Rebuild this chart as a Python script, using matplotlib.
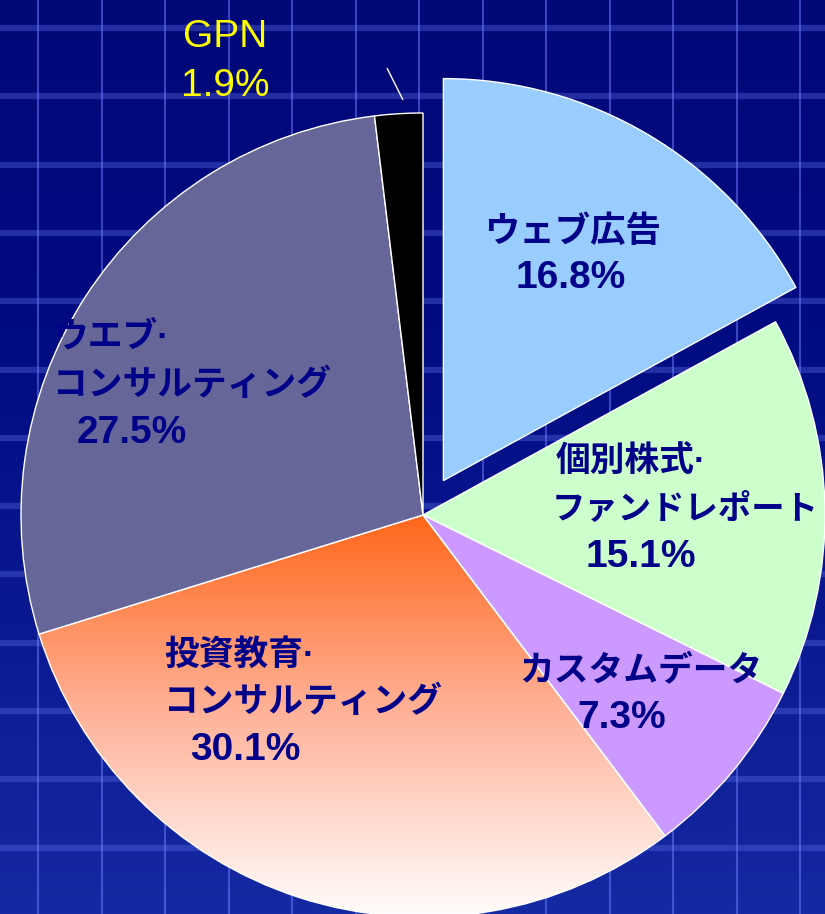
import numpy as np
import matplotlib.pyplot as plt
from matplotlib.colors import LinearSegmentedColormap

# data
categories = ['ウェブ広告', '個別株式・ファンドレポート', 'カスタムデータ',
              '投資教育・コンサルティング', 'ウエブ・コンサルティング', 'GPN']
shares = [16.8, 15.1, 7.3, 30.1, 27.5, 1.9]
explode = [40, 0, 0, 0, 0, 0]  # pie explode is in data units here (pixels)
colors = ['#99ccff', '#ccffcc', '#cc99ff', '#ff6619', '#666699', '#000000']

# label lines: (text, x, baseline y in image pixels, font size)
label_lines = [
    ('ウェブ広告', 484, 242, 25.5),
    ('16.8%', 516, 288, 28),
    ('個別株式·', 556, 472, 25),
    ('ファンドレポート', 552, 519, 24),
    ('15.1%', 585, 567, 28),
    ('カスタムデータ', 519, 680, 25),
    ('7.3%', 577, 728, 28),
    ('投資教育·', 164, 665, 25),
    ('コンサルティング', 164, 712, 25),
    ('30.1%', 190, 760, 28),
    ('ウエブ·', 53, 347, 25),
    ('コンサルティング', 53, 395, 25),
    ('27.5%', 77, 443, 28),
]
gpn_lines = [('GPN', 183, 47, 28), ('1.9%', 181, 96, 28)]

W, H = 825, 914
fontfam = ['Liberation Sans', 'Noto Sans CJK JP', 'DejaVu Sans']

fig = plt.figure(figsize=(W / 100, H / 100), dpi=100)
ax = fig.add_axes([0, 0, 1, 1])

# background gradient + grid
bg = LinearSegmentedColormap.from_list('bg', ['#1529a2', '#0a1890', '#000a80', '#000878'])
grad = np.linspace(0, 1, 256).reshape(-1, 1)
ax.imshow(grad, cmap=bg, aspect='auto', extent=[0, W, 0, H], origin='lower', zorder=0)
for yy in np.arange(28, H, 68.3):
    ax.axhline(H - yy, color='#5566dd', alpha=0.4, lw=4.5, zorder=0.2)
for xx in np.arange(38, W, 63.5):
    ax.axvline(xx, color='#6f80ff', alpha=0.5, lw=1.5, zorder=0.2)

cx, cy, r = 423, H - 515, 402
wedges, _ = ax.pie(shares, colors=colors, explode=explode, startangle=90,
                   counterclock=False, center=(cx, cy), radius=r,
                   wedgeprops=dict(edgecolor='white', linewidth=1))

# orange -> white gradient on the education wedge
edu = wedges[3]
edu.set_facecolor('none')
g2 = LinearSegmentedColormap.from_list('edu', ['#ffffff', '#ffb49c', '#ff6619'])
im = ax.imshow(grad, cmap=g2, aspect='auto', origin='lower',
               extent=[cx - r - 5, cx + r, cy - r - 5, cy + 2], zorder=0.9)
im.set_clip_path(edu)

for txt, x, y, s in label_lines:
    ax.text(x, H - y, txt, fontsize=s, fontweight='bold', color='#000088',
            family=fontfam, ha='left', va='baseline', zorder=5)
for txt, x, y, s in gpn_lines:
    ax.text(x, H - y, txt, fontsize=s, color='#ffff00',
            family=fontfam, ha='left', va='baseline', zorder=5)

ax.annotate('', xy=(404, H - 102), xytext=(386, H - 66),
            arrowprops=dict(arrowstyle='-', color='white', lw=1))

ax.set_xlim(0, W)
ax.set_ylim(0, H)
ax.set_axis_off()
fig.savefig('out.png', dpi=100)
